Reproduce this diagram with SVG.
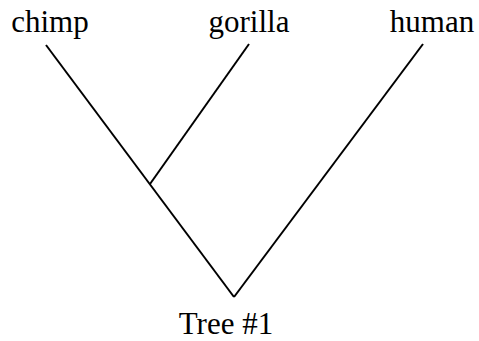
<svg xmlns="http://www.w3.org/2000/svg" width="479" height="341" viewBox="0 0 479 341">
  <style>
    .label { font-family: "Liberation Serif", "Times New Roman", serif; font-size: 31px; fill: #000; text-anchor: middle; }
    .edge { stroke: #000; stroke-width: 2; fill: none; }
  </style>
  <rect width="479" height="341" fill="#fff"/>
  <g id="edges">
    <line class="edge" x1="46" y1="45" x2="234" y2="297"/>
    <line class="edge" x1="249" y1="44" x2="150" y2="184"/>
    <line class="edge" x1="423" y1="44" x2="234" y2="297"/>
  </g>
  <g id="chimp"><text class="label" x="50" y="32">chimp</text></g>
  <g id="gorilla"><text class="label" x="249" y="32">gorilla</text></g>
  <g id="human"><text class="label" x="432" y="32">human</text></g>
  <g id="root"><text class="label" x="226" y="334">Tree #1</text></g>
</svg>
